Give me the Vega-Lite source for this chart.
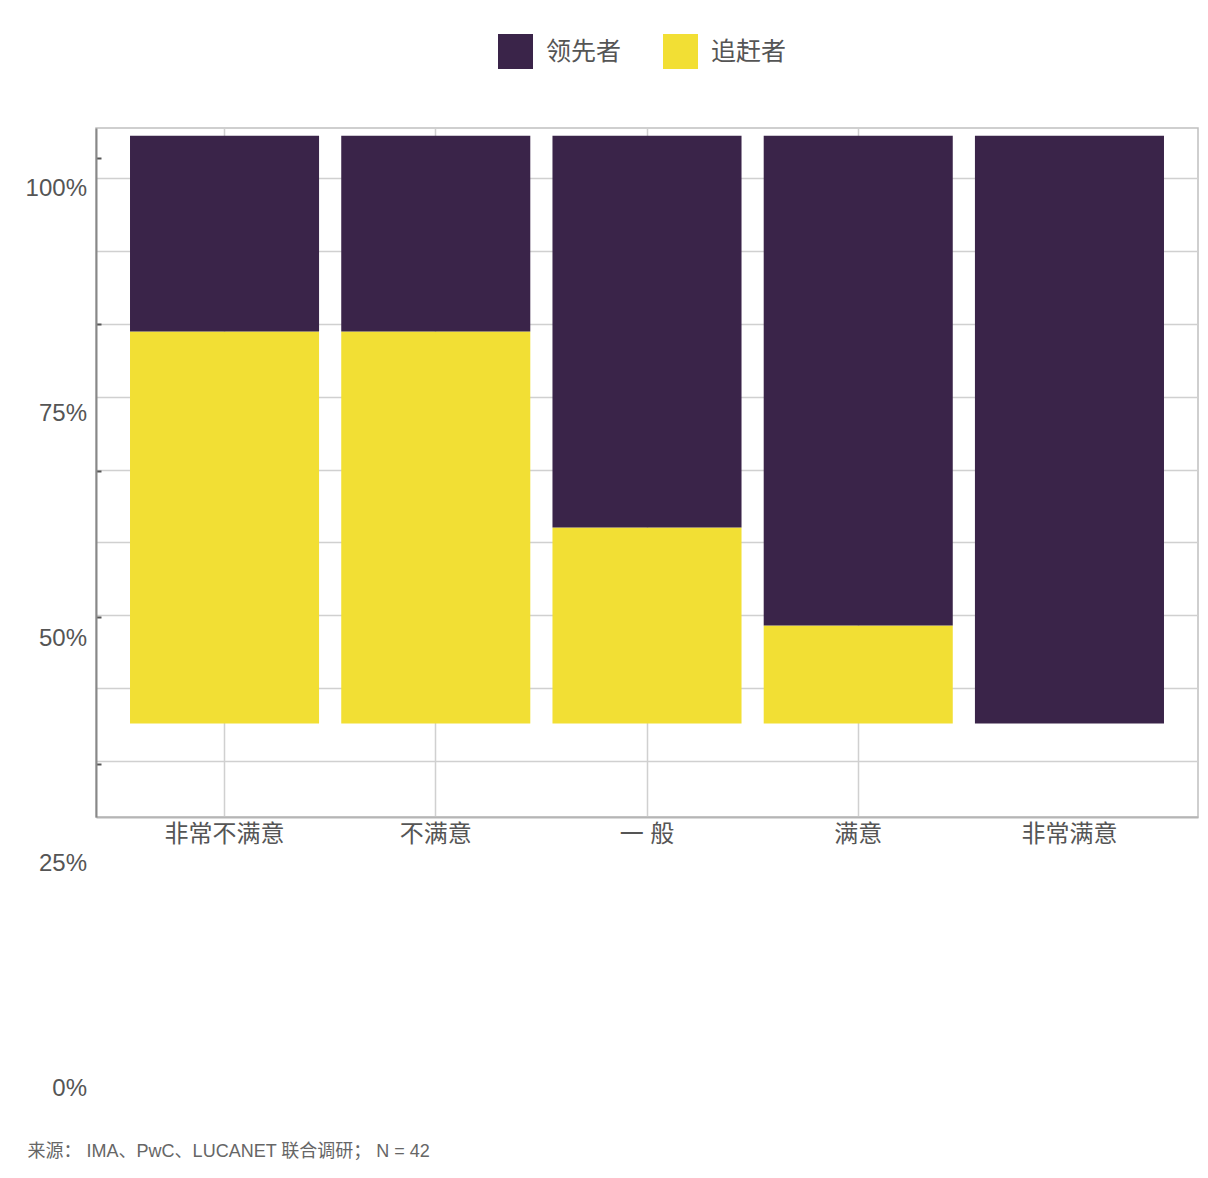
{
  "$schema": "https://vega.github.io/schema/vega-lite/v6.json",
  "width": 1102,
  "height": 689,
  "padding": {"left": 25, "top": 34, "right": 10, "bottom": 5},
  "background": "white",
  "config": {
    "font": "Liberation Sans, Noto Sans CJK SC, sans-serif",
    "view": {"stroke": "#c0c0c0", "strokeWidth": 1.5}
  },
  "title": {
    "text": "来源：   IMA、PwC、LUCANET 联合调研；    N = 42",
    "orient": "bottom",
    "anchor": "start",
    "frame": "bounds",
    "fontSize": 18,
    "fontWeight": "normal",
    "color": "#666",
    "offset": 42,
    "dx": 2
  },
  "data": {
    "values": [
      {"cat": "非常不满意", "grp": "追赶者", "ord": 0, "share": 0.6667},
      {"cat": "非常不满意", "grp": "领先者", "ord": 1, "share": 0.3333},
      {"cat": "不满意", "grp": "追赶者", "ord": 0, "share": 0.6667},
      {"cat": "不满意", "grp": "领先者", "ord": 1, "share": 0.3333},
      {"cat": "一 般", "grp": "追赶者", "ord": 0, "share": 0.3333},
      {"cat": "一 般", "grp": "领先者", "ord": 1, "share": 0.6667},
      {"cat": "满意", "grp": "追赶者", "ord": 0, "share": 0.1667},
      {"cat": "满意", "grp": "领先者", "ord": 1, "share": 0.8333},
      {"cat": "非常满意", "grp": "追赶者", "ord": 0, "share": 0},
      {"cat": "非常满意", "grp": "领先者", "ord": 1, "share": 1}
    ]
  },
  "layer": [
    {
      "mark": {"type": "bar"},
      "encoding": {
        "x": {
          "field": "cat",
          "type": "nominal",
          "sort": ["非常不满意", "不满意", "一 般", "满意", "非常满意"],
          "scale": {"paddingInner": 0.105, "paddingOuter": 0.161},
          "axis": {
            "title": null,
            "labelAngle": 0,
            "labelFontSize": 24,
            "labelColor": "#555",
            "labelPadding": 5,
            "ticks": false,
            "domainColor": "#b5b5b5",
            "domainWidth": 2,
            "grid": true,
            "bandPosition": 0.5,
            "gridColor": "#d0d0d0",
            "gridWidth": 1.5,
            "gridOpacity": {"condition": {"test": "datum.value === '非常满意'", "value": 0}, "value": 1}
          }
        },
        "y": {
          "field": "share",
          "type": "quantitative",
          "stack": "zero",
          "scale": {"domain": [-0.1593, 1.0131], "nice": false, "zero": false},
          "axis": {
            "orient": "right",
            "title": null,
            "grid": true,
            "gridColor": "#d0d0d0",
            "gridWidth": 1.5,
            "values": [0.928, 0.804, 0.6799, 0.5559, 0.4319, 0.3078, 0.1838, 0.0597, -0.0643],
            "labels": false,
            "ticks": false,
            "domain": false
          }
        },
        "color": {
          "field": "grp",
          "type": "nominal",
          "scale": {"domain": ["领先者", "追赶者"], "range": ["#3a2449", "#f2df34"]},
          "legend": {
            "orient": "none",
            "legendX": 402,
            "legendY": -94,
            "title": null,
            "direction": "horizontal",
            "symbolType": "square",
            "symbolSize": 1225,
            "symbolStrokeWidth": 0,
            "labelFontSize": 25,
            "labelColor": "#555",
            "labelOffset": 13,
            "columnPadding": 41
          }
        },
        "order": {"field": "ord", "type": "quantitative"}
      }
    },
    {
      "data": {"values": [{"t": 0}, {"t": 0.25}, {"t": 0.5}, {"t": 0.75}, {"t": 1}]},
      "mark": {"type": "text", "align": "right", "baseline": "middle", "dx": -9, "dy": 1.5, "fontSize": 24, "color": "#555"},
      "encoding": {
        "x": {"datum": 0, "type": "quantitative", "scale": {"domain": [0, 1]}, "axis": null},
        "y": {
          "field": "t",
          "type": "quantitative",
          "scale": {"domain": [0.3002, 1.0658], "nice": false, "zero": false},
          "axis": {
            "orient": "left",
            "title": null,
            "grid": false,
            "labels": false,
            "values": [1.0328, 0.8483, 0.685, 0.5228, 0.3594],
            "ticks": true,
            "tickSize": -5,
            "tickColor": "#555",
            "tickWidth": 2,
            "domain": true,
            "domainColor": "#888",
            "domainWidth": 2
          }
        },
        "text": {"field": "t", "type": "quantitative", "format": ".0%"}
      }
    }
  ],
  "resolve": {"scale": {"x": "independent", "y": "independent"}}
}
